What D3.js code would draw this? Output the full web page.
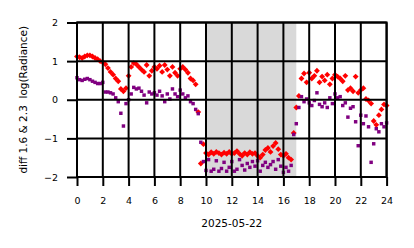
<!DOCTYPE html>
<html><head><meta charset="utf-8">
<script src="https://cdn.jsdelivr.net/npm/d3@7"></script>
<style>body{margin:0;background:#fff}svg{display:block}</style>
</head><body><svg id="c" width="414" height="248"></svg>
<script>
const hours = [0.0,0.2,0.4,0.6,0.8,1.0,1.2,1.4,1.6,1.8,2.0,2.2,2.4,2.6,2.8,3.0,3.2,3.4,3.6,3.8,4.0,4.2,4.4,4.6,4.8,5.0,5.2,5.4,5.6,5.8,6.0,6.2,6.4,6.6,6.8,7.0,7.2,7.4,7.6,7.8,8.0,8.2,8.4,8.6,8.8,9.0,9.2,9.4,9.6,9.8,10.0,10.2,10.4,10.6,10.8,11.0,11.2,11.4,11.6,11.8,12.0,12.2,12.4,12.6,12.8,13.0,13.2,13.4,13.6,13.8,14.0,14.2,14.4,14.6,14.8,15.0,15.2,15.4,15.6,15.8,16.0,16.2,16.4,16.6,16.8,17.0,17.2,17.4,17.6,17.8,18.0,18.2,18.4,18.6,18.8,19.0,19.2,19.4,19.6,19.8,20.0,20.2,20.4,20.6,20.8,21.0,21.2,21.4,21.6,21.8,22.0,22.2,22.4,22.6,22.8,23.0,23.2,23.4,23.6,23.8,24.0];
const redValues = [1.12,1.10,1.08,1.12,1.15,1.15,1.12,1.08,1.05,1.00,
  0.97,0.92,0.82,0.72,0.65,0.55,0.48,0.28,0.22,0.30,
  0.62,0.85,0.95,0.92,0.85,0.78,0.72,0.90,0.62,0.75,
  0.85,0.80,0.88,0.72,0.90,0.78,0.62,0.85,0.70,0.62,
  0.80,0.85,0.78,0.70,0.55,0.50,0.40,-0.32,-1.65,-1.15,
  -1.38,-1.42,-1.36,-1.40,-1.35,-1.38,-1.42,-1.37,-1.40,-1.35,
  -1.40,-1.38,-1.33,-1.40,-1.45,-1.38,-1.42,-1.36,-1.40,-1.38,
  -1.45,-1.50,-1.42,-1.30,-1.25,-1.35,-1.20,-1.12,-1.28,-1.42,
  -1.45,-1.40,-1.50,-1.55,-0.86,-0.20,0.10,0.55,0.68,0.45,
  0.70,0.55,0.62,0.75,0.45,0.60,0.50,0.65,0.40,0.55,
  0.65,0.60,0.55,0.48,0.62,0.25,0.30,0.22,0.60,0.18,
  0.25,0.30,0.02,-0.02,-0.10,-0.55,-0.65,-0.40,-0.25,-0.12,
  -0.15];
const purpleValues = [0.57,0.52,0.50,0.53,0.55,0.52,0.48,0.45,0.42,0.42,
  0.45,0.20,0.20,0.18,0.15,0.05,-0.05,-0.35,-0.68,-0.10,
  0.00,0.15,0.32,0.28,0.30,0.22,0.12,-0.08,0.20,0.15,
  0.18,0.12,0.22,0.10,-0.05,0.15,0.02,0.28,0.15,0.08,
  0.25,0.15,0.05,0.10,-0.05,-0.10,-0.25,-0.36,-1.10,-1.60,
  -1.83,-1.55,-1.85,-1.80,-1.58,-1.85,-1.78,-1.62,-1.85,-1.75,
  -1.60,-1.85,-1.80,-1.55,-1.70,-1.82,-1.65,-1.75,-1.60,-1.72,
  -1.58,-1.85,-1.70,-1.62,-1.75,-1.68,-1.60,-1.80,-1.55,-1.72,
  -1.88,-1.75,-1.85,-1.70,-0.90,-0.62,-0.20,0.08,-0.05,0.02,
  -0.08,-0.15,-0.02,0.18,-0.12,-0.18,-0.08,-0.20,0.05,-0.10,
  0.15,0.05,0.08,-0.15,-0.08,-0.45,-0.22,-0.18,-0.57,-1.19,
  -0.40,-0.62,-0.42,-0.70,-1.62,-1.14,-0.75,-0.83,-0.62,-0.70,
  -0.60];
const xTicks = [0,2,4,6,8,10,12,14,16,18,20,22,24];
const yTicks = [-2,-1,0,1,2];
const shadeSpan = [9.92, 17.0];
const xLabel = "2025-05-22";
const yLabel = "diff 1.6 & 2.3  log(Radiance)";

const svg = d3.select("#c");
const mLeft = 77, mRight = 386.6, mTop = 22.5, mBottom = 177;
const x = d3.scaleLinear().domain([0, 24]).range([mLeft, mRight]);
const y = d3.scaleLinear().domain([-2, 2]).range([mBottom, mTop]);
const font = "DejaVu Sans, sans-serif";

// shaded span
svg.append("rect")
  .attr("x", x(shadeSpan[0])).attr("y", mTop)
  .attr("width", x(shadeSpan[1]) - x(shadeSpan[0]))
  .attr("height", mBottom - mTop)
  .attr("fill", "#d9d9d9");

const diamond = {draw(ctx, size){ const r = Math.sqrt(size / 2);
  ctx.moveTo(0, -r); ctx.lineTo(r, 0); ctx.lineTo(0, r); ctx.lineTo(-r, 0); ctx.closePath(); }};

const red = hours.map((h, i) => ({h, v: redValues[i]}));
const purple = hours.map((h, i) => ({h, v: purpleValues[i]}));

svg.append("g").selectAll("path").data(red).join("path")
  .attr("transform", d => `translate(${x(d.h)},${y(d.v)})`)
  .attr("d", d3.symbol().type(diamond).size(17))
  .attr("fill", "#ff0000");

svg.append("g").selectAll("path").data(purple).join("path")
  .attr("transform", d => `translate(${x(d.h)},${y(d.v)})`)
  .attr("d", d3.symbol().type(d3.symbolSquare).size(12))
  .attr("fill", "#800080");

// grid on top
const grid = svg.append("g").attr("stroke", "#000").attr("stroke-width", 2);
grid.selectAll("line.v").data(xTicks).join("line").attr("class","v")
  .attr("x1", d => x(d)).attr("x2", d => x(d)).attr("y1", mTop).attr("y2", mBottom);
grid.selectAll("line.h").data(yTicks).join("line").attr("class","h")
  .attr("x1", mLeft).attr("x2", mRight).attr("y1", d => y(d)).attr("y2", d => y(d));

// axes
const fmt = d => (d < 0 ? "\u2212" + Math.abs(d) : String(d));
const xAxis = svg.append("g").attr("transform", `translate(0,${mBottom})`)
  .call(d3.axisBottom(x).tickValues(xTicks).tickFormat(fmt).tickSize(9).tickPadding(11));
const yAxis = svg.append("g").attr("transform", `translate(${mLeft},0)`)
  .call(d3.axisLeft(y).tickValues(yTicks).tickFormat(fmt).tickSize(10).tickPadding(9));
[xAxis, yAxis].forEach(a => {
  a.select(".domain").remove();
  a.selectAll(".tick line").attr("stroke", "#000").attr("stroke-width", 2);
  a.selectAll(".tick text").attr("font-family", font).attr("font-size", "9.5px").attr("fill", "#000");
});

// frame
svg.append("rect").attr("x", mLeft).attr("y", mTop)
  .attr("width", mRight - mLeft).attr("height", mBottom - mTop)
  .attr("fill", "none").attr("stroke", "#000").attr("stroke-width", 2);

svg.append("text").attr("x", (mLeft + mRight) / 2).attr("y", 227)
  .attr("text-anchor", "middle").attr("font-family", font).attr("font-size", "10.5px")
  .text(xLabel);
svg.append("text").attr("transform", `translate(27,${(mTop + mBottom) / 2}) rotate(-90)`)
  .attr("text-anchor", "middle").attr("font-family", font).attr("font-size", "10.5px")
  .style("white-space", "pre")
  .text(yLabel);
</script>
</body></html>
